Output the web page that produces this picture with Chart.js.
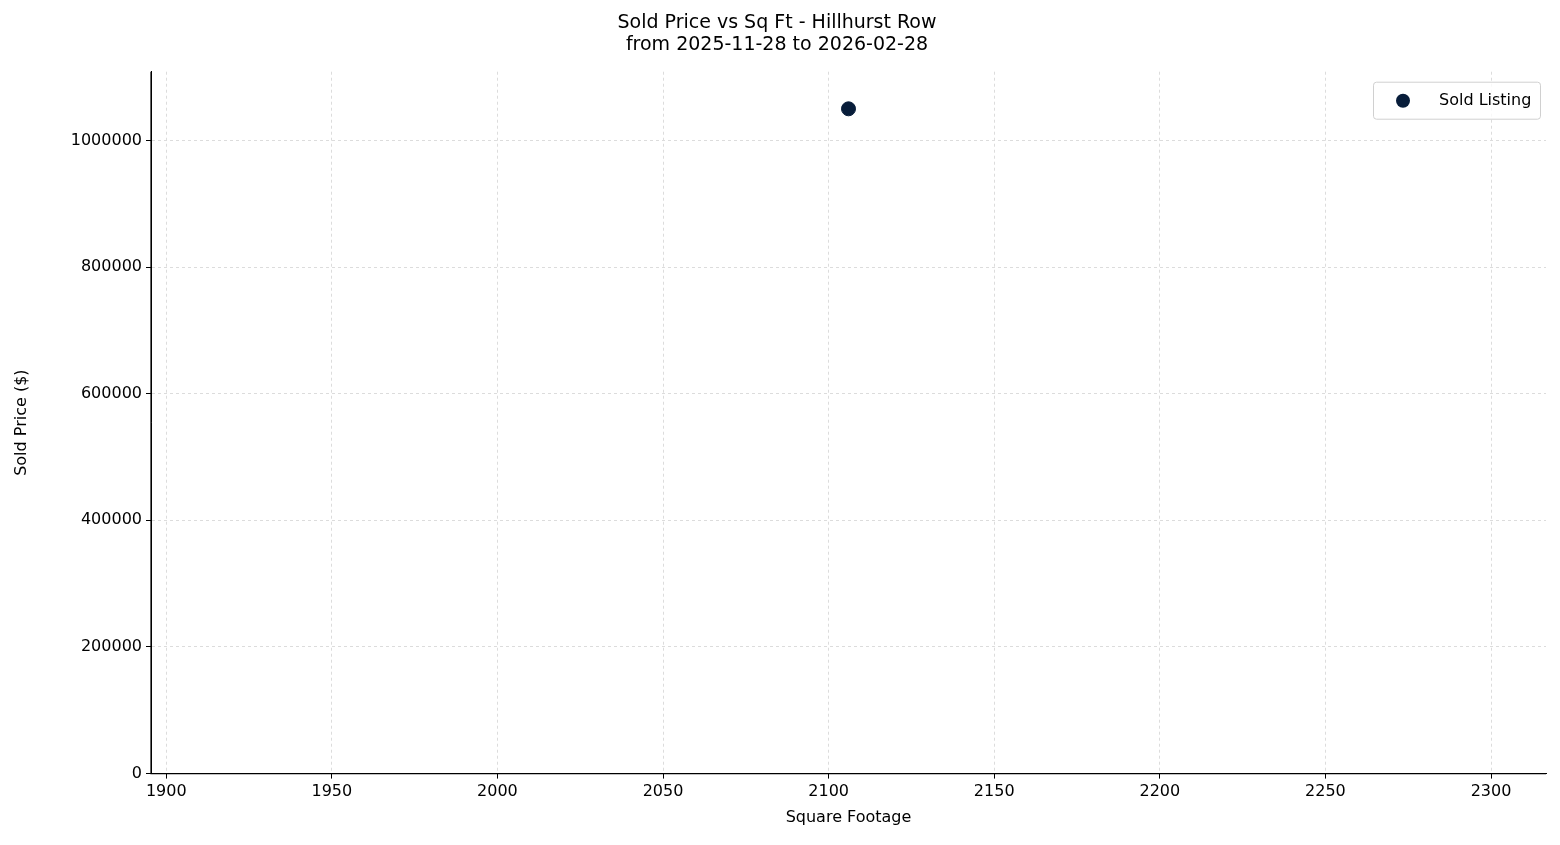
<!DOCTYPE html>
<html><head><meta charset="utf-8">
<script src="https://cdn.jsdelivr.net/npm/chart.js@4/dist/chart.umd.min.js"></script>
<style>html,body{margin:0;padding:0;background:#fff}#w{width:1560px;height:845px}</style>
</head><body><div id="w"><canvas id="c"></canvas></div>
<script>
const titleLines = ["Sold Price vs Sq Ft - Hillhurst Row", "from 2025-11-28 to 2026-02-28"];
const sqft = [2106];
const soldPrice = [1050000];
const seriesName = "Sold Listing";
const xLabel = "Square Footage";
const yLabel = "Sold Price ($)";
const xTicks = [1900, 1950, 2000, 2050, 2100, 2150, 2200, 2250, 2300];
const yTicks = [0, 200000, 400000, 600000, 800000, 1000000];

const F = "'DejaVu Sans', sans-serif";
const legendPlugin = {
  id: 'lg',
  afterDraw(ch) {
    const a = ch.chartArea, c = ch.ctx;
    c.save();
    const w = 167, h = 37, x = a.right - 6 - w, y = a.top + 10;
    c.fillStyle = 'rgba(255,255,255,0.8)';
    c.strokeStyle = '#d0d0d0'; c.lineWidth = 1;
    c.beginPath(); c.roundRect(x + .5, y + .5, w, h, 3); c.fill(); c.stroke();
    c.fillStyle = '#081d3a';
    c.beginPath(); c.arc(x + 30, y + 19, 7, 0, Math.PI * 2); c.fill();
    c.fillStyle = '#000'; c.font = "16px " + F; c.textBaseline = 'middle';
    c.fillText(seriesName, x + 66, y + 19);
    c.restore();
  }
};
new Chart(document.getElementById('c'), {
  type: 'scatter',
  data: { datasets: [{ label: seriesName, data: sqft.map((x, i) => ({ x, y: soldPrice[i] })),
    backgroundColor: '#081d3a', borderColor: '#081d3a', pointRadius: 7, pointHoverRadius: 7 }] },
  options: {
    responsive: true, maintainAspectRatio: false, animation: false,
    layout: { padding: { left: 8, right: 14, top: 0, bottom: 14 } },
    plugins: {
      legend: { display: false }, tooltip: { enabled: false },
      title: { display: true, text: titleLines, color: '#000', font: { family: F, size: 19, weight: 'normal', lineHeight: 1.15 }, padding: { top: 12, bottom: 16 } }
    },
    scales: {
      x: { type: 'linear', min: 1895.4, max: 2316.6,
        afterBuildTicks: s => { s.ticks = xTicks.map(v => ({ value: v })); },
        ticks: { color: '#000', font: { family: F, size: 16 }, padding: 4, maxRotation: 0, autoSkip: false, callback: v => String(v) },
        grid: { color: '#dcdcdc', tickColor: '#000', tickLength: 5 },
        border: { color: '#000', dash: [3, 3], display: true },
        title: { display: true, text: xLabel, color: '#000', font: { family: F, size: 16 }, padding: { top: 2 } } },
      y: { type: 'linear', min: 0, max: 1108600,
        afterBuildTicks: s => { s.ticks = yTicks.map(v => ({ value: v })); },
        afterFit: s => { s.width = 143; },
        ticks: { color: '#000', font: { family: F, size: 16 }, padding: 4, autoSkip: false, callback: v => String(v) },
        grid: { color: '#dcdcdc', tickColor: '#000', tickLength: 5 },
        border: { color: '#000', dash: [3, 3] },
        title: { display: true, text: yLabel, color: '#000', font: { family: F, size: 16 }, padding: { bottom: 8 } } }
    }
  },
  plugins: [legendPlugin, {
    id: 'axes',
    afterDraw(ch) {
      const a = ch.chartArea, c = ch.ctx;
      c.save(); c.strokeStyle = '#000'; c.lineWidth = 1.2; c.setLineDash([]);
      c.beginPath(); c.moveTo(a.left, a.top); c.lineTo(a.left, a.bottom); c.lineTo(a.right, a.bottom); c.stroke();
      c.restore();
    }
  }]
});
</script></body></html>
